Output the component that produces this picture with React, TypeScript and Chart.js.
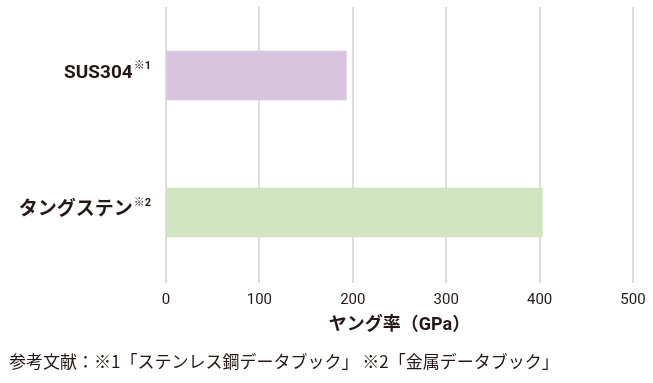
import React, { useEffect, useRef } from "react";
import { Chart, registerables } from "chart.js";

Chart.register(...registerables);

const categories = ["SUS304", "タングステン"];
const notes = ["※1", "※2"];
const values = [193, 403];
const barColors = ["#d7c4df", "#d0e4bf"];
const xMin = 0;
const xMax = 500;
const xStep = 100;
const xTitle = "ヤング率（GPa）";
const footer = "参考文献：※1「ステンレス鋼データブック」 ※2「金属データブック」";

const TEXT = "#231815";
const FONT = "Roboto, 'Noto Sans CJK JP', sans-serif";

const yLabelPlugin = {
  id: "yLabelPlugin",
  afterDraw(chart: any) {
    const ctx = chart.ctx;
    const ys = chart.scales.y;
    const right = chart.chartArea.left - 15;
    ctx.save();
    ctx.fillStyle = TEXT;
    ctx.textBaseline = "middle";
    categories.forEach((c, i) => {
      const py = ys.getPixelForValue(i) - 2;
      ctx.font = `bold 11px ${FONT}`;
      const sw = ctx.measureText(notes[i]).width;
      ctx.textAlign = "right";
      ctx.fillText(notes[i], right, py - 7);
      ctx.font = `bold 19px ${FONT}`;
      ctx.fillText(c, right - sw - 1, py);
    });
    ctx.restore();
  },
};

export default function App() {
  const ref = useRef<HTMLCanvasElement>(null);
  useEffect(() => {
    if (!ref.current) return;
    const chart = new Chart(ref.current, {
      type: "bar",
      data: {
        labels: categories,
        datasets: [
          {
            data: values,
            backgroundColor: barColors,
            borderWidth: 0,
            barThickness: 49,
          },
        ],
      },
      options: {
        indexAxis: "y",
        animation: false,
        responsive: false,
        layout: { padding: { left: 166, right: 20, top: 7, bottom: 49.5 } },
        plugins: { legend: { display: false }, tooltip: { enabled: false } },
        scales: {
          y: { display: false },
          x: {
            min: xMin,
            max: xMax,
            ticks: {
              stepSize: xStep,
              color: TEXT,
              font: { family: FONT, size: 15, lineHeight: 1.4 },
              padding: 7,
            },
            grid: { color: "#dcdcdc", lineWidth: 2, tickLength: 2 },
            border: { display: false },
            title: {
              display: true,
              text: xTitle,
              color: TEXT,
              font: { family: FONT, size: 18, weight: "bold", lineHeight: 17 / 18 },
              padding: { top: -1.5, bottom: 0 },
            },
          },
        },
      },
      plugins: [yLabelPlugin],
    });
    return () => chart.destroy();
  }, []);
  return (
    <div style={{ position: "absolute", left: 0, top: 0, width: 653, height: 383, background: "#fff" }}>
      <canvas ref={ref} width={653} height={383} style={{ position: "absolute", left: 0, top: 0 }} />
      <div
        style={{
          position: "absolute",
          left: 9,
          top: 350,
          fontFamily: "'Noto Sans CJK JP', sans-serif",
          fontSize: 17,
          lineHeight: "22px",
          color: TEXT,
          whiteSpace: "nowrap",
        }}
      >
        {footer}
      </div>
    </div>
  );
}
